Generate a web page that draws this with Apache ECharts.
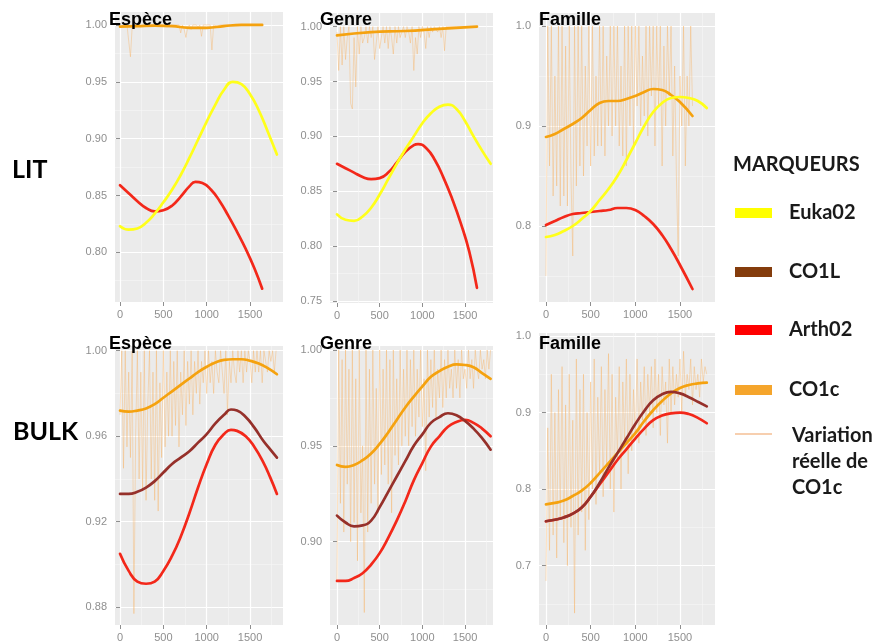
<!DOCTYPE html>
<html><head><meta charset="utf-8">
<script src="https://cdn.jsdelivr.net/npm/echarts@6/dist/echarts.min.js"></script>
<style>html,body{margin:0;padding:0;background:#fff}#c{width:878px;height:641px}</style>
</head><body><div id="c"></div>
<script>
// ================= DATA =================
const xTickLabels = [0, 500, 1000, 1500];
const yTicksLitEsp = [0.80, 0.85, 0.90, 0.95, 1.00];
const yTicksLitGen = [0.75, 0.80, 0.85, 0.90, 0.95, 1.00];
const yTicksLitFam = [0.8, 0.9, 1.0];
const yTicksBulkEsp = [0.88, 0.92, 0.96, 1.00];
const yTicksBulkGen = [0.90, 0.95, 1.00];
const yTicksBulkFam = [0.7, 0.8, 0.9, 1.0];

const panelTitles = ['Espèce', 'Genre', 'Famille', 'Espèce', 'Genre', 'Famille'];
const rowLabels = ['LIT', 'BULK'];
const legendTitle = 'MARQUEURS';
const legendNames = ['Euka02', 'CO1L', 'Arth02', 'CO1c'];
const legendLineLabel = ['Variation', 'réelle de', 'CO1c'];

// sample positions of the raw CO1c variation
const varXTop = [0,20,40,60,80,100,120,140,160,180,200,220,240,260,280,300,320,340,360,380,400,420,440,460,480,500,520,540,560,580,600,620,640,660,680,700,720,740,760,780,800,820,840,860,880,900,920,940,960,980,1000,1020,1040,1060,1080,1100,1120,1140,1160,1180,1200,1220,1240,1260,1280,1300,1320,1340,1360,1380,1400,1420,1440,1460,1480,1500,1520,1540,1560,1580,1600,1620,1640];
const varXBot = [0,20,40,60,80,100,120,140,160,180,200,220,240,260,280,300,320,340,360,380,400,420,440,460,480,500,520,540,560,580,600,620,640,660,680,700,720,740,760,780,800,820,840,860,880,900,920,940,960,980,1000,1020,1040,1060,1080,1100,1120,1140,1160,1180,1200,1220,1240,1260,1280,1300,1320,1340,1360,1380,1400,1420,1440,1460,1480,1500,1520,1540,1560,1580,1600,1620,1640,1660,1680,1700,1720,1740,1760,1780,1800];

// LIT – Espèce
const litEspVar = [0.998,0.999,1.0,0.999,1.0,0.999,0.972,0.998,1.0,0.999,
  1.0,1.0,0.999,1.0,1.0,0.999,1.0,1.0,1.0,0.999,
  1.0,1.0,1.0,0.999,1.0,1.0,1.0,0.998,1.0,1.0,
  1.0,0.999,1.0,1.0,1.0,0.993,1.0,0.996,0.989,0.998,
  1.0,0.996,1.0,0.999,1.0,0.998,1.0,0.99,1.0,0.999,
  1.0,1.0,1.0,0.978,1.0,1.0,0.999,1.0,1.0,1.0,
  1.0,1.0,1.0,1.0,1.0,1.0,1.0,1.0,1.0,1.0,
  1.0,1.0,1.0,1.0,1.0,1.0,1.0,1.0,1.0,1.0,
  1.0,1.0,1.0];
const litEspEukaX = [0,100,200,300,400,500,600,700,800,900,1000,1100,1200,1300,1400,1500,1600,1700,1810];
const litEspEukaY = [0.823,0.820,0.821,0.826,0.834,0.844,0.855,0.868,0.883,0.899,0.915,0.930,0.943,0.950,0.948,0.939,0.925,0.907,0.886];
const litEspArthX = [0,100,200,300,400,500,600,700,800,870,950,1050,1150,1250,1350,1450,1550,1640];
const litEspArthY = [0.859,0.852,0.845,0.839,0.836,0.837,0.841,0.849,0.858,0.862,0.861,0.855,0.845,0.832,0.818,0.803,0.786,0.768];
const litEspCo1cX = [0,200,400,600,800,1000,1200,1400,1640];
const litEspCo1cY = [0.9985,0.999,0.9995,0.999,0.9975,0.9975,0.999,1.0,1.0];

// LIT – Genre
const litGenVar = [0.995,0.96,1.0,0.965,1.0,0.97,0.99,1.0,0.93,0.925,
  0.99,0.945,1.0,0.975,1.0,0.985,0.99,1.0,0.985,1.0,
  0.99,1.0,0.97,0.985,1.0,0.98,0.99,1.0,0.985,1.0,
  0.98,1.0,0.99,0.975,1.0,0.985,1.0,0.99,0.995,1.0,
  0.99,1.0,0.995,0.985,1.0,0.96,0.99,0.975,1.0,0.99,
  1.0,0.995,0.98,1.0,0.99,1.0,0.995,1.0,1.0,0.995,
  1.0,0.99,1.0,0.978,1.0,1.0,1.0,1.0,1.0,1.0,
  1.0,1.0,1.0,1.0,1.0,1.0,1.0,1.0,1.0,1.0,
  1.0,1.0,1.0];
const litGenEukaX = [0,100,200,300,400,500,600,700,800,900,1000,1100,1200,1300,1400,1500,1600,1700,1800];
const litGenEukaY = [0.829,0.824,0.823,0.827,0.835,0.847,0.861,0.875,0.888,0.900,0.912,0.921,0.927,0.929,0.925,0.914,0.900,0.887,0.875];
const litGenArthX = [0,100,200,300,400,500,600,700,800,900,950,1050,1150,1250,1350,1450,1550,1640];
const litGenArthY = [0.875,0.871,0.867,0.863,0.861,0.862,0.867,0.876,0.886,0.892,0.893,0.889,0.878,0.862,0.843,0.821,0.795,0.762];
const litGenCo1cX = [0,400,800,1200,1640];
const litGenCo1cY = [0.992,0.995,0.996,0.998,1.0];

// LIT – Famille
const litFamVar = [0.75,1.0,0.86,1.0,0.83,0.95,0.84,1.0,0.82,1.0,
  0.83,0.98,0.82,1.0,0.85,0.77,1.0,0.84,1.0,0.86,
  1.0,0.85,0.96,0.88,1.0,0.86,1.0,0.87,0.95,0.88,
  1.0,0.88,1.0,0.87,0.97,0.9,1.0,0.89,1.0,0.9,
  1.0,0.88,0.96,0.87,1.0,0.86,1.0,0.9,1.0,0.88,
  1.0,0.92,1.0,0.9,0.97,0.91,1.0,0.89,1.0,0.93,
  1.0,0.88,1.0,0.92,1.0,0.86,0.98,0.9,1.0,0.93,
  1.0,0.87,0.96,0.85,0.77,0.95,0.9,1.0,0.86,0.95,
  0.9,1.0,0.92];
const litFamCo1cX = [0,100,200,300,400,500,600,700,800,900,1000,1100,1200,1300,1400,1500,1640];
const litFamCo1cY = [0.889,0.892,0.897,0.902,0.908,0.916,0.923,0.925,0.925,0.927,0.930,0.934,0.937,0.936,0.931,0.924,0.910];
const litFamEukaX = [0,100,200,300,400,500,600,700,800,900,1000,1100,1200,1300,1400,1500,1600,1700,1800];
const litFamEukaY = [0.789,0.791,0.795,0.800,0.807,0.815,0.826,0.837,0.850,0.866,0.883,0.900,0.914,0.923,0.928,0.929,0.928,0.925,0.918];
const litFamArthX = [0,100,200,300,400,500,600,700,800,900,1000,1100,1200,1300,1400,1500,1640];
const litFamArthY = [0.801,0.805,0.809,0.812,0.813,0.814,0.815,0.816,0.818,0.818,0.816,0.810,0.802,0.791,0.777,0.761,0.737];

// BULK – Espèce
const bulkEspVar = [0.97,1.0,0.945,1.0,0.955,0.99,0.95,1.0,0.877,0.96,
  1.0,0.94,0.99,0.935,1.0,0.93,0.975,1.0,0.94,0.99,
  0.93,1.0,0.925,0.985,0.95,1.0,0.955,0.99,0.96,1.0,
  0.96,0.995,0.965,1.0,0.955,0.99,0.97,1.0,0.965,0.995,
  0.975,1.0,0.97,0.995,0.98,1.0,0.975,0.995,0.985,1.0,
  0.98,1.0,0.985,0.995,0.98,1.0,0.99,0.985,1.0,0.99,
  0.98,1.0,0.97,0.995,0.985,1.0,0.99,0.985,1.0,0.99,
  1.0,0.985,1.0,0.99,1.0,0.995,0.985,1.0,0.99,1.0,
  0.99,1.0,0.985,1.0,0.995,0.99,1.0,0.995,1.0,0.99,
  1.0];
const bulkEspCo1cX = [0,100,200,300,400,500,600,700,800,900,1000,1100,1200,1300,1400,1500,1600,1700,1810];
const bulkEspCo1cY = [0.972,0.9715,0.972,0.973,0.975,0.978,0.981,0.984,0.987,0.990,0.9925,0.9945,0.9957,0.996,0.996,0.9953,0.994,0.992,0.989];
const bulkEspCo1lX = [0,100,200,300,400,500,600,700,800,900,1000,1100,1200,1280,1350,1450,1550,1650,1730,1810];
const bulkEspCo1lY = [0.933,0.933,0.934,0.936,0.939,0.943,0.947,0.950,0.953,0.957,0.961,0.966,0.970,0.9725,0.972,0.969,0.964,0.958,0.954,0.950];
const bulkEspArthX = [0,100,200,300,400,500,600,700,800,900,1000,1100,1200,1280,1350,1450,1550,1650,1730,1810];
const bulkEspArthY = [0.905,0.897,0.892,0.891,0.892,0.897,0.904,0.913,0.924,0.936,0.947,0.956,0.961,0.963,0.9625,0.960,0.955,0.948,0.941,0.933];

// BULK – Genre
const bulkGenVar = [0.88,1.0,0.92,0.995,0.905,1.0,0.93,0.99,0.9,1.0,
  0.91,0.985,0.89,1.0,0.915,0.95,0.863,1.0,0.905,0.99,
  0.92,1.0,0.93,0.98,0.915,1.0,0.935,0.99,0.94,1.0,
  0.93,0.995,0.915,1.0,0.945,0.985,0.94,1.0,0.95,0.99,
  0.955,1.0,0.95,0.995,0.96,1.0,0.955,0.99,0.965,1.0,
  0.96,0.985,0.937,1.0,0.965,0.995,0.97,1.0,0.965,0.99,
  0.975,1.0,0.97,0.995,0.975,1.0,0.98,0.99,0.975,1.0,
  0.98,0.995,0.975,1.0,0.985,0.99,0.98,1.0,0.985,0.995,
  0.98,1.0,0.99,0.985,1.0,0.99,0.995,0.985,1.0,0.99,
  1.0];
const bulkGenCo1cX = [0,100,200,300,400,500,600,700,800,900,1000,1100,1200,1300,1400,1500,1600,1700,1800];
const bulkGenCo1cY = [0.940,0.939,0.940,0.9425,0.946,0.951,0.957,0.9635,0.970,0.9757,0.981,0.986,0.989,0.9913,0.9925,0.9922,0.991,0.988,0.985];
const bulkGenCo1lX = [0,100,200,300,400,500,600,700,800,900,1000,1100,1200,1300,1400,1500,1600,1700,1800];
const bulkGenCo1lY = [0.9136,0.910,0.908,0.9085,0.911,0.918,0.926,0.934,0.942,0.950,0.956,0.962,0.965,0.967,0.966,0.963,0.959,0.954,0.948];
const bulkGenArthX = [0,100,200,300,400,500,600,700,800,900,1000,1100,1200,1300,1400,1500,1600,1700,1800];
const bulkGenArthY = [0.8795,0.8795,0.881,0.8835,0.888,0.894,0.902,0.911,0.921,0.932,0.941,0.9496,0.955,0.960,0.9625,0.9635,0.962,0.959,0.955];

// BULK – Famille
const bulkFamVar = [0.68,0.88,0.72,0.95,0.74,0.9,0.71,0.93,0.76,0.96,
  0.73,0.91,0.7,0.95,0.75,0.89,0.638,0.97,0.74,0.93,
  0.77,0.95,0.72,0.9,0.76,0.94,0.8,0.97,0.78,0.92,
  0.82,0.96,0.79,0.93,0.83,0.977,0.8,0.95,0.77,0.92,
  0.84,0.96,0.8,0.94,0.86,0.97,0.82,0.95,0.85,0.93,
  0.87,0.97,0.86,0.94,0.89,0.96,0.87,0.95,0.9,0.96,
  0.88,0.97,0.9,0.95,0.87,0.96,0.91,0.94,0.86,0.97,
  0.9,0.96,0.91,0.95,0.92,0.97,0.9,0.98,0.92,0.95,
  0.93,0.97,0.91,0.96,0.93,0.95,0.92,0.97,0.94,0.96,
  0.95];
const bulkFamCo1cX = [0,100,200,300,400,500,600,700,800,900,1000,1100,1200,1300,1400,1500,1600,1700,1800];
const bulkFamCo1cY = [0.780,0.782,0.785,0.791,0.798,0.808,0.821,0.834,0.847,0.860,0.873,0.889,0.903,0.915,0.925,0.932,0.936,0.938,0.939];
const bulkFamCo1lX = [0,100,200,300,400,500,600,700,800,900,1000,1100,1200,1300,1400,1500,1600,1700,1800];
const bulkFamCo1lY = [0.758,0.760,0.763,0.768,0.776,0.790,0.808,0.828,0.847,0.866,0.885,0.902,0.916,0.924,0.927,0.925,0.920,0.914,0.908];
const bulkFamArthX = [0,100,200,300,400,500,600,700,800,900,1000,1100,1200,1300,1400,1500,1600,1700,1800];
const bulkFamArthY = [0.758,0.760,0.763,0.768,0.776,0.790,0.806,0.822,0.838,0.852,0.866,0.879,0.890,0.896,0.899,0.900,0.898,0.893,0.886];

// ================= LAYOUT / STYLE =================
const C = {
  euka: '#ffff1a', co1l: '#96302a', arth: '#f3281a', co1c: '#f5a20f',
  varLine: 'rgba(248,178,98,0.40)',
  legEuka: '#ffff00', legCo1l: '#843c0c', legArth: '#ff0000', legCo1c: '#f5a52c', legVar: '#f0a060'
};
const FONT = '"Liberation Sans", Arial, sans-serif';
const pairs = (xs, ys) => xs.map((x, i) => [x, ys[i]]);

const panels = [
  { box: [115, 12, 168, 290], xr: [-58, 1880], yr: [0.7563, 1.0114], yt: yTicksLitEsp, step: 0.05, dec: 2,
    varX: varXTop, varY: litEspVar,
    lines: [[litEspCo1cX, litEspCo1cY, C.co1c], [litEspArthX, litEspArthY, C.arth], [litEspEukaX, litEspEukaY, C.euka]] },
  { box: [330, 13, 163, 290], xr: [-82, 1828], yr: [0.7482, 1.0124], yt: yTicksLitGen, step: 0.05, dec: 2,
    varX: varXTop, varY: litGenVar,
    lines: [[litGenCo1cX, litGenCo1cY, C.co1c], [litGenArthX, litGenArthY, C.arth], [litGenEukaX, litGenEukaY, C.euka]] },
  { box: [539, 13, 176, 289], xr: [-78, 1892], yr: [0.724, 1.013], yt: yTicksLitFam, step: 0.1, dec: 1,
    varX: varXTop, varY: litFamVar,
    lines: [[litFamCo1cX, litFamCo1cY, C.co1c], [litFamArthX, litFamArthY, C.arth], [litFamEukaX, litFamEukaY, C.euka]] },
  { box: [115, 346, 168, 279], xr: [-58, 1880], yr: [0.8717, 1.0022], yt: yTicksBulkEsp, step: 0.04, dec: 2,
    varX: varXBot, varY: bulkEspVar,
    lines: [[bulkEspCo1cX, bulkEspCo1cY, C.co1c], [bulkEspArthX, bulkEspArthY, C.arth], [bulkEspCo1lX, bulkEspCo1lY, C.co1l]] },
  { box: [330, 346, 163, 279], xr: [-82, 1828], yr: [0.8565, 1.0021], yt: yTicksBulkGen, step: 0.05, dec: 2,
    varX: varXBot, varY: bulkGenVar,
    lines: [[bulkGenCo1cX, bulkGenCo1cY, C.co1c], [bulkGenArthX, bulkGenArthY, C.arth], [bulkGenCo1lX, bulkGenCo1lY, C.co1l]] },
  { box: [539, 333, 176, 292], xr: [-78, 1892], yr: [0.6225, 1.0039], yt: yTicksBulkFam, step: 0.1, dec: 1,
    varX: varXBot, varY: bulkFamVar,
    lines: [[bulkFamCo1cX, bulkFamCo1cY, C.co1c], [bulkFamArthX, bulkFamArthY, C.arth], [bulkFamCo1lX, bulkFamCo1lY, C.co1l]] }
];
const titlePos = [[109, 20], [320, 20], [539, 20], [109, 344], [320, 344], [539, 344]];

const grids = [], xAxes = [], yAxes = [], series = [], graphics = [];
const labelStyle = { color: '#8f8f8f', fontSize: 11, fontFamily: FONT };
panels.forEach((p, i) => {
  grids.push({ left: p.box[0], top: p.box[1], width: p.box[2], height: p.box[3], show: true,
    backgroundColor: '#ebebeb', borderWidth: 0, containLabel: false, outerBoundsMode: 'none' });
  xAxes.push({ type: 'value', gridIndex: i, min: p.xr[0], max: p.xr[1], minInterval: 500, maxInterval: 500,
    axisLine: { show: false },
    axisTick: { show: true, length: 4, customValues: xTickLabels, lineStyle: { color: '#8f8f8f' } },
    axisLabel: Object.assign({ customValues: xTickLabels, margin: 7, formatter: v => String(v) }, labelStyle),
    splitLine: { show: true, lineStyle: { color: '#ffffff', width: 1.2 } },
    minorTick: { show: false, splitNumber: 2 },
    minorSplitLine: { show: true, lineStyle: { color: '#f6f6f6', width: 0.6 } } });
  yAxes.push({ type: 'value', gridIndex: i, min: p.yr[0], max: p.yr[1], minInterval: p.step, maxInterval: p.step,
    axisLine: { show: false },
    axisTick: { show: true, length: 4, customValues: p.yt, lineStyle: { color: '#8f8f8f' } },
    axisLabel: Object.assign({ customValues: p.yt, margin: 8, formatter: v => v.toFixed(p.dec) }, labelStyle),
    splitLine: { show: true, lineStyle: { color: '#ffffff', width: 1.2 } },
    minorTick: { show: false, splitNumber: 2 },
    minorSplitLine: { show: true, lineStyle: { color: '#f6f6f6', width: 0.6 } } });
  series.push({ type: 'line', xAxisIndex: i, yAxisIndex: i, data: pairs(p.varX, p.varY), showSymbol: false,
    symbol: 'none', lineStyle: { color: C.varLine, width: 1 }, silent: true, animation: false, z: 2 });
  p.lines.forEach(([xs, ys, col], k) => {
    series.push({ type: 'line', xAxisIndex: i, yAxisIndex: i, data: pairs(xs, ys), smooth: 0.5,
      showSymbol: false, symbol: 'none',
      lineStyle: { color: col, width: 2.7, cap: 'round' }, silent: true, animation: false, z: 3 + k });
  });
  graphics.push({ type: 'text', x: titlePos[i][0], y: titlePos[i][1], z: 100,
    style: { text: panelTitles[i], font: 'bold 18px ' + FONT, fill: '#000', align: 'left', verticalAlign: 'middle' } });
});

// row labels
graphics.push({ type: 'text', x: 12, y: 170, z: 100,
  style: { text: rowLabels[0], font: 'bold 25px Lato, "Open Sans", sans-serif', fill: '#000', align: 'left', verticalAlign: 'middle' } });
graphics.push({ type: 'text', x: 13, y: 432, z: 100,
  style: { text: rowLabels[1], font: 'bold 25px Lato, "Open Sans", sans-serif', fill: '#000', align: 'left', verticalAlign: 'middle' } });

// legend
const LF = 'bold 20px Lato, "Open Sans", sans-serif';
graphics.push({ type: 'text', x: 733, y: 165, z: 100,
  style: { text: legendTitle, font: 'bold 20px Lato, "Open Sans", sans-serif', fill: '#1a1a1a', align: 'left', verticalAlign: 'middle' } });
const legCols = [C.legEuka, C.legCo1l, C.legArth, C.legCo1c];
const legY = [213, 272, 330, 390];
legendNames.forEach((n, k) => {
  graphics.push({ type: 'rect', z: 100, shape: { x: 735, y: legY[k] - 5, width: 37, height: 10 }, style: { fill: legCols[k] } });
  graphics.push({ type: 'text', x: 789, y: legY[k], z: 100,
    style: { text: n, font: LF, fill: '#1a1a1a', align: 'left', verticalAlign: 'middle' } });
});
graphics.push({ type: 'line', z: 100, shape: { x1: 735, y1: 434, x2: 772, y2: 434 }, style: { stroke: C.legVar, lineWidth: 1.2 } });
legendLineLabel.forEach((t, k) => {
  graphics.push({ type: 'text', x: 792, y: 436 + k * 26, z: 100,
    style: { text: t, font: LF, fill: '#1a1a1a', align: 'left', verticalAlign: 'middle' } });
});

const chart = echarts.init(document.getElementById('c'), null, { renderer: 'canvas' });
chart.setOption({
  animation: false,
  backgroundColor: '#ffffff',
  grid: grids, xAxis: xAxes, yAxis: yAxes, series: series, graphic: graphics
});
</script>
</body></html>
